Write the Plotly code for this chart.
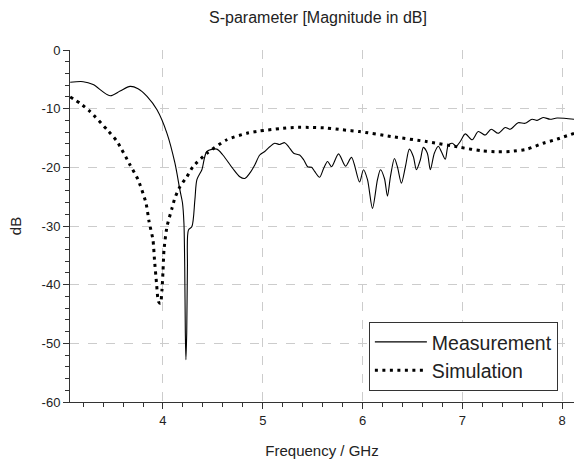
import plotly.graph_objects as go

# Measured S11 magnitude (GHz, dB)
meas_freq = [3.07, 3.20, 3.30, 3.47, 3.57, 3.67, 3.75, 3.84, 3.94, 4.04, 4.12, 4.17,
             4.195, 4.21, 4.218, 4.224, 4.23, 4.238, 4.245, 4.255, 4.29, 4.32, 4.34,
             4.39, 4.44, 4.54, 4.60, 4.70, 4.77, 4.82, 4.87, 4.92, 4.97, 5.02, 5.07,
             5.12, 5.17, 5.22, 5.26, 5.31, 5.37, 5.41, 5.45, 5.49, 5.52, 5.57, 5.61,
             5.65, 5.69, 5.76, 5.83, 5.89, 5.97, 6.01, 6.05, 6.10, 6.15, 6.18, 6.22,
             6.25, 6.28, 6.32, 6.35, 6.39, 6.43, 6.47, 6.51, 6.54, 6.58, 6.61, 6.65,
             6.68, 6.72, 6.76, 6.79, 6.83, 6.86, 6.90, 6.94, 6.98, 7.03, 7.10, 7.16,
             7.23, 7.29, 7.36, 7.43, 7.48, 7.56, 7.63, 7.70, 7.75, 7.81, 7.88, 7.95,
             8.12]
meas_db = [-5.5, -5.4, -5.9, -7.8, -7.0, -6.2, -6.6, -7.9, -10.2, -14.2, -19.3, -23.9,
           -26.0, -29.5, -37.0, -48.2, -52.8, -48.2, -37.0, -30.7, -30.1, -25.5, -22.1,
           -20.4, -17.3, -16.9, -17.9, -20.2, -21.6, -21.9, -21.0, -19.6, -17.9, -17.3,
           -16.5, -15.9, -16.1, -15.8, -16.5, -17.6, -17.9, -18.7, -19.9, -20.0, -20.7,
           -21.7, -20.2, -19.0, -19.9, -17.7, -19.8, -18.3, -22.5, -20.4, -22.1, -27.0,
           -22.1, -20.4, -21.9, -24.9, -21.6, -18.5, -19.9, -22.7, -19.9, -16.9, -18.2,
           -20.4, -18.7, -16.6, -17.6, -20.4, -17.6, -16.4, -17.3, -18.6, -16.2, -15.9,
           -16.4, -15.6, -14.3, -15.3, -13.9, -14.5, -13.5, -14.2, -13.2, -13.5, -12.4,
           -12.5, -11.8, -12.0, -11.5, -11.8, -11.6, -11.8]

# Simulated S11 magnitude (GHz, dB)
sim_freq = [3.07, 3.17, 3.27, 3.44, 3.54, 3.67, 3.75, 3.83, 3.86, 3.90, 3.915, 3.935,
            3.955, 3.975, 3.99, 4.00, 4.01, 4.04, 4.09, 4.12, 4.17, 4.24, 4.30, 4.44,
            4.64, 4.84, 4.97, 5.17, 5.31, 5.50, 5.64, 5.80, 5.97, 6.31, 6.64, 6.98,
            7.20, 7.35, 7.48, 7.65, 7.81, 7.95, 8.12]
sim_db = [-8.0, -9.1, -10.5, -13.6, -15.6, -19.6, -22.1, -26.1, -29.2, -32.4, -35.8,
          -39.7, -42.9, -43.2, -40.9, -37.8, -34.1, -30.1, -27.0, -25.2, -23.3, -21.6,
          -19.9, -17.6, -15.3, -14.2, -13.8, -13.4, -13.2, -13.2, -13.3, -13.6, -13.9,
          -14.8, -15.6, -16.6, -17.2, -17.35, -17.3, -16.9, -15.9, -15.2, -14.2]

x_ticks = [4, 5, 6, 7, 8]
y_ticks = [0, -10, -20, -30, -40, -50, -60]

FONT = "Liberation Sans, Arial, sans-serif"

fig = go.Figure()
fig.add_trace(go.Scatter(
    x=meas_freq, y=meas_db, mode="lines", name="Measurement",
    line=dict(color="black", width=1.1, shape="spline", smoothing=0.8),
))
fig.add_trace(go.Scatter(
    x=sim_freq, y=sim_db, mode="lines", name="Simulation",
    line=dict(color="black", width=3, dash="3px,4.5px", shape="spline", smoothing=0.6),
))

axis_common = dict(
    showline=True, linecolor="#333333", linewidth=1,
    showgrid=True, gridcolor="#cccccc", gridwidth=1, griddash="dash",
    ticks="outside", ticklen=6, tickcolor="#333333",
    tickfont=dict(family=FONT, size=13, color="#222222"),
    zeroline=False, mirror=False,
)

fig.update_xaxes(
    **axis_common,
    range=[3.068, 8.12], tickvals=x_ticks, ticktext=[str(v) for v in x_ticks],
    minor=dict(dtick=0.2, tick0=0, ticks="outside", ticklen=4, tickcolor="#333333",
               showgrid=False),
    title=dict(text="Frequency / GHz", font=dict(family=FONT, size=15, color="#222222"),
               standoff=18),
)
fig.update_yaxes(
    **axis_common,
    range=[-60, 0], tickvals=y_ticks, ticktext=[str(v) for v in y_ticks],
    minor=dict(dtick=2, tick0=0, ticks="outside", ticklen=4, tickcolor="#333333",
               showgrid=False),
    title=dict(text="dB", font=dict(family=FONT, size=15, color="#222222"), standoff=16),
)

fig.update_layout(
    width=574, height=466,
    margin=dict(l=70, r=0, t=50, b=64),
    paper_bgcolor="white", plot_bgcolor="white",
    title=dict(text="S-parameter [Magnitude in dB]", x=0.554, xanchor="center",
               y=0.962, yanchor="middle",
               font=dict(family=FONT, size=16, color="#222222")),
    showlegend=True,
    legend=dict(
        x=0.593, y=0.228, xanchor="left", yanchor="top",
        bgcolor="white", bordercolor="#333333", borderwidth=1,
        font=dict(family=FONT, size=19.5, color="#222222"),
        itemwidth=52, tracegroupgap=0,
    ),
)

fig.write_html("out.html")
